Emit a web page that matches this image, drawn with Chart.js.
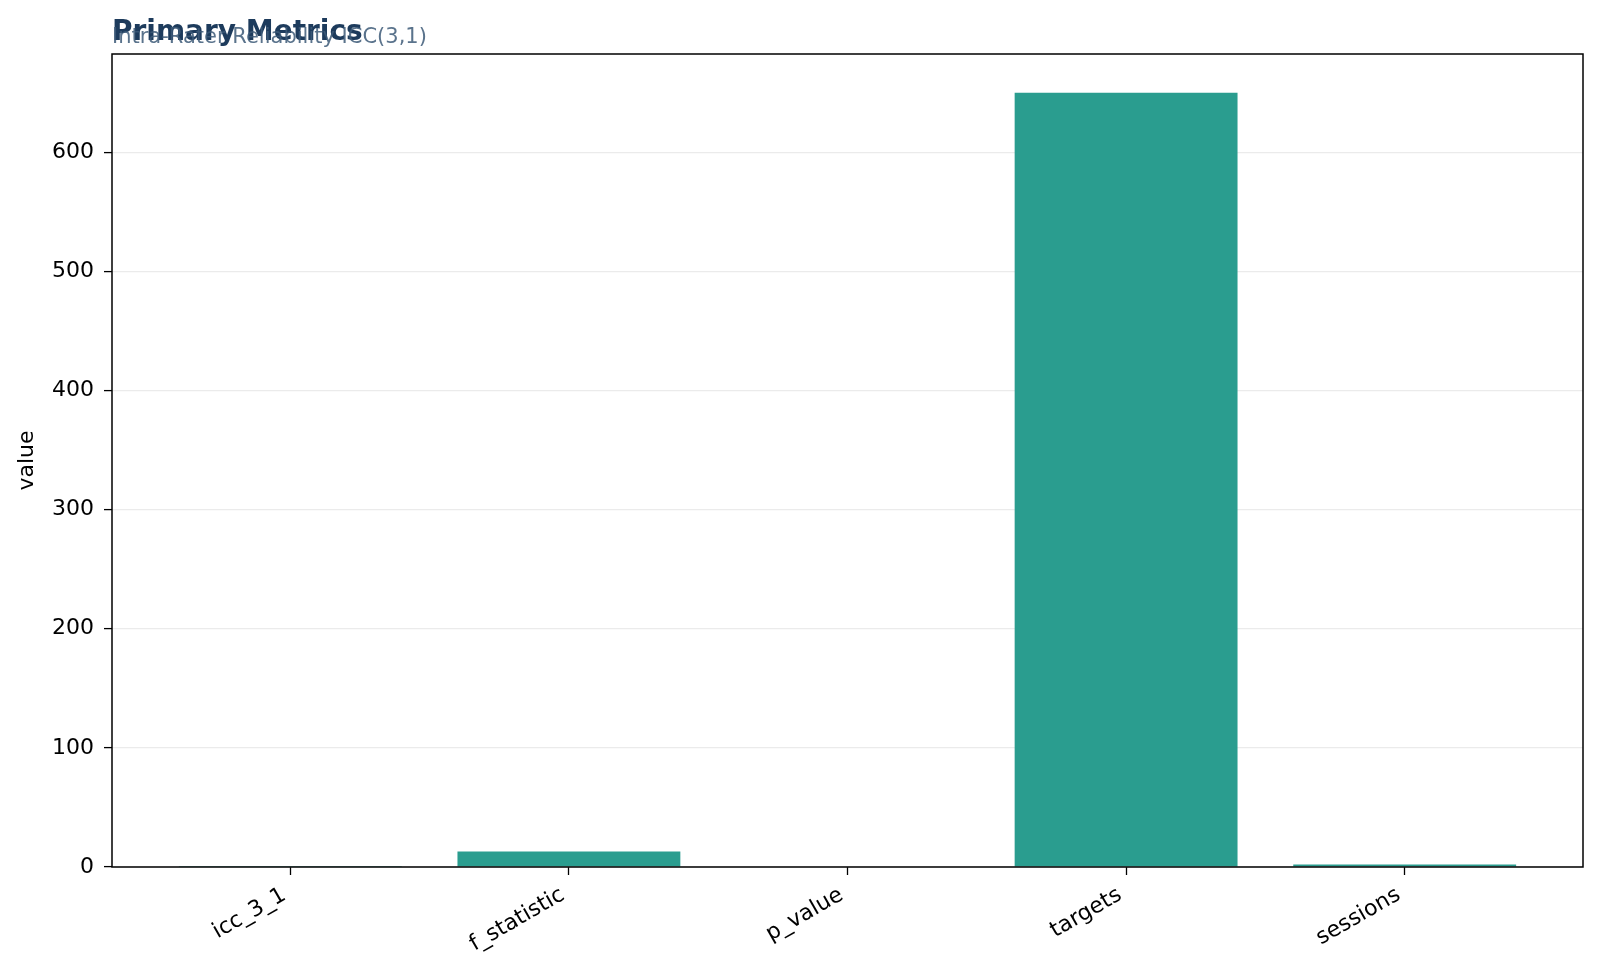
<!DOCTYPE html>
<html>
<head>
<meta charset="utf-8">
<script src="https://cdn.jsdelivr.net/npm/chart.js@4.4.1/dist/chart.umd.min.js"></script>
<style>
html,body{margin:0;padding:0;background:#fff;overflow:hidden;width:1600px;height:979px;}
#wrap{width:1600px;height:979px;position:relative;overflow:hidden;}
canvas{display:block;}
</style>
</head>
<body>
<div id="wrap"><canvas id="c" width="1600" height="979" style="width:1600px;height:979px;"></canvas></div>
<script>
const categories = ['icc_3_1', 'f_statistic', 'p_value', 'targets', 'sessions'];
const values = [0.857, 13.0, 0.0, 650, 2];
const yTicks = [0, 100, 200, 300, 400, 500, 600];
const titleText = 'Primary Metrics';
const subtitleText = 'Intra-Rater Reliability ICC(3,1)';
const yAxisLabel = 'value';

const FONT = "'DejaVu Sans', sans-serif";

const frame = {
  id: 'frame',
  afterDraw(chart) {
    const {ctx, chartArea: a} = chart;
    ctx.save();
    ctx.strokeStyle = '#000';
    ctx.lineWidth = 1.5;
    ctx.strokeRect(a.left, a.top, a.right - a.left, a.bottom - a.top);
    ctx.textAlign = 'left';
    ctx.textBaseline = 'alphabetic';
    ctx.fillStyle = '#1d3b5c';
    ctx.font = "bold 28px " + FONT;
    ctx.fillText(titleText, a.left, 40);
    ctx.fillStyle = 'rgba(61,90,120,0.85)';
    ctx.font = "21px " + FONT;
    ctx.fillText(subtitleText, a.left, 43);
    ctx.restore();
  }
};

new Chart(document.getElementById('c'), {
  type: 'bar',
  data: {
    datasets: [{
      data: values.map((v, i) => ({x: i, y: v})),
      backgroundColor: '#2a9d8f',
      borderWidth: 0,
      barPercentage: 0.8,
      categoryPercentage: 1.0
    }]
  },
  options: {
    responsive: false,
    animation: false,
    devicePixelRatio: 1,
    layout: {padding: {left: 0, right: 17, top: 54, bottom: 0}},
    plugins: {legend: {display: false}, tooltip: {enabled: false}},
    scales: {
      x: {
        type: 'linear',
        min: -0.64,
        max: 4.64,
        offset: false,
        afterBuildTicks: (s) => { s.ticks = categories.map((_, i) => ({value: i})); },
        afterFit: (s) => { s.height = 112; },
        grid: {display: true, offset: false, drawOnChartArea: false, drawTicks: true, tickLength: 8, tickColor: '#000', tickWidth: 1.3},
        border: {display: false},
        ticks: {
          autoSkip: false,
          minRotation: 30,
          maxRotation: 30,
          padding: 7,
          labelOffset: -6,
          color: '#000',
          font: {family: FONT, size: 22},
          callback: (v) => categories[v] !== undefined && Number.isInteger(v) ? categories[v] : ''
        }
      },
      y: {
        min: 0,
        max: 682.5,
        afterBuildTicks: (s) => { s.ticks = yTicks.map(v => ({value: v})); },
        afterFit: (s) => { s.width = 112; },
        grid: {color: '#ebebeb', lineWidth: 1.2, tickLength: 8, tickColor: '#000', tickWidth: 1.3},
        border: {display: false},
        ticks: {padding: 10, color: '#000', font: {family: FONT, size: 22}},
        title: {display: true, text: yAxisLabel, color: '#000', font: {family: FONT, size: 22}, padding: {top: 14, bottom: 0}}
      }
    }
  },
  plugins: [frame]
});
</script>
</body>
</html>
